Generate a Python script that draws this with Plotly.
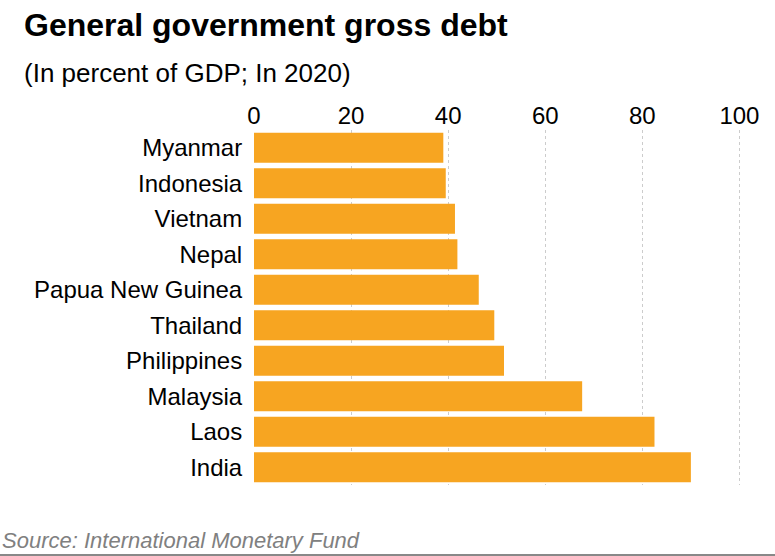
import plotly.graph_objects as go

countries = ['Myanmar', 'Indonesia', 'Vietnam', 'Nepal', 'Papua New Guinea',
             'Thailand', 'Philippines', 'Malaysia', 'Laos', 'India']
debt = [39.0, 39.5, 41.4, 41.9, 46.3, 49.5, 51.5, 67.6, 82.5, 90.0]
tick_vals = [0, 20, 40, 60, 80, 100]

fig = go.Figure()
fig.add_trace(go.Bar(x=debt, y=countries, orientation='h',
                     marker=dict(color='#F7A521', line=dict(width=0)),
                     hoverinfo='x+y'))

fig.update_layout(
    width=775, height=556,
    plot_bgcolor='white', paper_bgcolor='white',
    margin=dict(l=254, r=21, t=130, b=71),
    bargap=0.15, showlegend=False,
    font=dict(family='Liberation Sans, Arial', size=20, color='black'),
)
fig.update_xaxes(range=[0, 103], side='top', tickvals=tick_vals, automargin=False,
                 showgrid=True, gridcolor='#cccccc', griddash='dot', gridwidth=1,
                 zeroline=False, showline=False, ticks='', ticklabelstandoff=0,
                 tickfont=dict(size=24))
fig.update_yaxes(autorange='reversed', showgrid=False, zeroline=False, automargin=False,
                 ticks='outside', ticklen=6, tickcolor='white',
                 tickfont=dict(size=24))

# titles and source
plot_w = 775 - 254 - 21
plot_h = 556 - 130 - 71
fig.add_annotation(text='<b>General government gross debt</b>', xref='paper', yref='paper',
                   x=-(254 - 22) / plot_w, y=1.0, xanchor='left', yanchor='middle',
                   yshift=105, showarrow=False, font=dict(size=32, color='black'))
fig.add_annotation(text='(In percent of GDP; In 2020)', xref='paper', yref='paper',
                   x=-(254 - 22) / plot_w, y=1.0, xanchor='left', yanchor='middle',
                   yshift=57, showarrow=False, font=dict(size=26, color='black'))
fig.add_annotation(text='<i>Source: International Monetary Fund</i>', xref='paper', yref='paper',
                   x=-254 / plot_w, y=0, xanchor='left', yanchor='middle',
                   yshift=-55, showarrow=False, font=dict(size=22, color='#808080'))
fig.add_shape(type='line', xref='paper', yref='paper', x0=-254 / plot_w, x1=(775 - 254) / plot_w,
              y0=-70 / plot_h, y1=-70 / plot_h, line=dict(color='#888888', width=2))

fig.write_html("out.html", config={'displayModeBar': False},
               post_script="document.body.style.margin='0';")
